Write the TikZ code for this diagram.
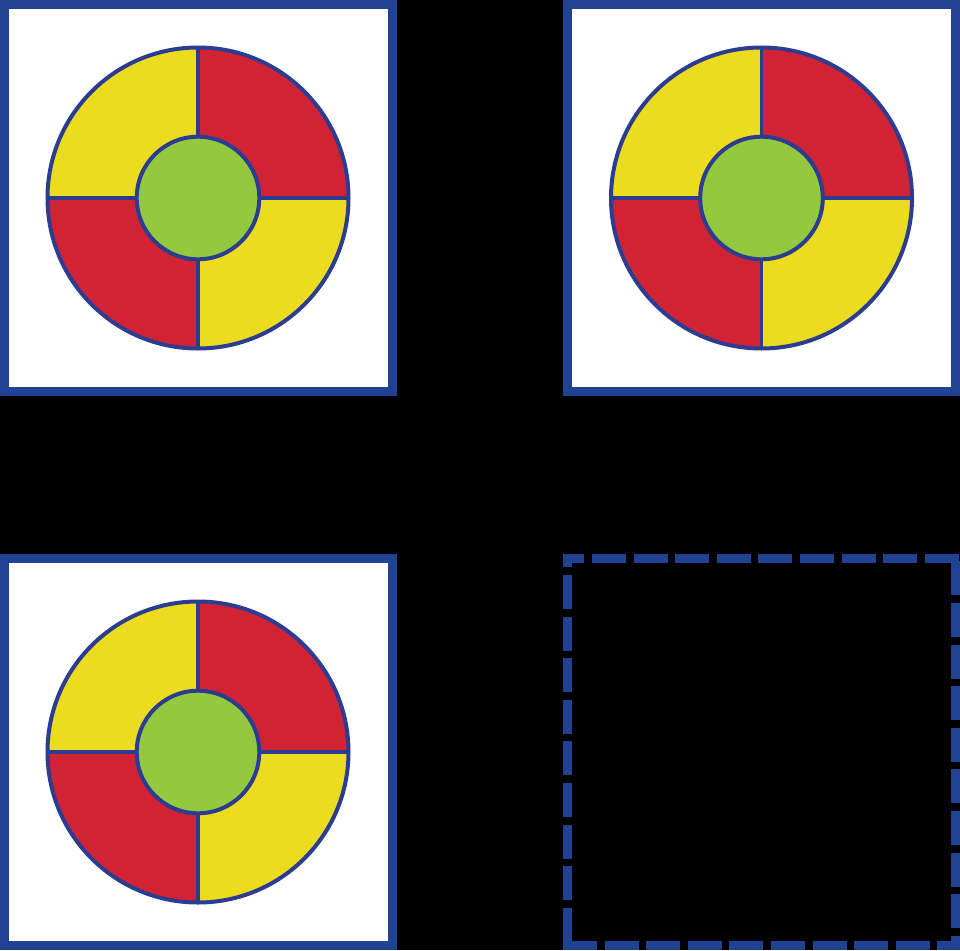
\documentclass[tikz,border=0pt]{standalone}
\usetikzlibrary{calc}
\definecolor{bblue}{RGB}{33,66,146}
\definecolor{cblue}{RGB}{44,60,145}
\definecolor{rred}{RGB}{210,35,52}
\definecolor{yyel}{RGB}{236,220,32}
\definecolor{ggreen}{RGB}{148,200,62}
\tikzset{
  panel/.style={fill=white,draw=bblue,line width=9pt},
  dashside/.style={draw=bblue,line width=9pt,line cap=butt,dash pattern=on 34pt off 7.6pt},
  ring/.style={draw=cblue,line width=4pt},
  divider/.style={draw=cblue,line width=3.5pt}
}
\begin{document}
\begin{tikzpicture}[x=1pt,y=-1pt]
\fill[black] (0,0) rectangle (960,950);
\useasboundingbox (0,0) rectangle (960,950);
% panels
\draw[panel] (4.5,4.5) rectangle (392,391.5);
\draw[panel] (567.5,4.5) rectangle (955.5,391.5);
\draw[panel] (4.5,558.5) rectangle (392,945.5);
% dashed empty panel
\coordinate (dTL) at (563,558.5);
\coordinate (dTR) at (960,558.5);
\draw[dashside,dash phase=12.6pt] (dTL) -- (dTR);
\coordinate (dRT) at (955.5,554);
\coordinate (dRB) at (955.5,950);
\draw[dashside,dash phase=34.2pt] (dRT) -- (dRB);
\coordinate (dBL) at (563,945.5);
\coordinate (dBR) at (960,945.5);
\draw[dashside,dash phase=0pt] (dBL) -- (dBR);
\coordinate (dLT) at (567.5,554);
\coordinate (dLB) at (567.5,950);
\draw[dashside,dash phase=20.6pt] (dLT) -- (dLB);
% targets
\foreach \cx/\cy/\nm in {198/198/tA, 761.5/198/tB, 198/752/tC} {
  \coordinate (\nm) at (\cx,\cy);
  \fill[rred] (\nm) circle[radius=150.5pt];
  \begin{scope}
    \clip (\nm) circle[radius=150.5pt];
    \fill[yyel] (\nm) rectangle ++(-160,-160);
    \fill[yyel] (\nm) rectangle ++(160,160);
  \end{scope}
  \draw[divider] ($(\nm)+(0,-150.5)$) -- ($(\nm)+(0,150.5)$);
  \draw[divider] ($(\nm)+(-150.5,0)$) -- ($(\nm)+(150.5,0)$);
  \draw[ring] (\nm) circle[radius=150.5pt];
  \filldraw[ring,fill=ggreen] (\nm) circle[radius=61.3pt];
}
\end{tikzpicture}
\end{document}
